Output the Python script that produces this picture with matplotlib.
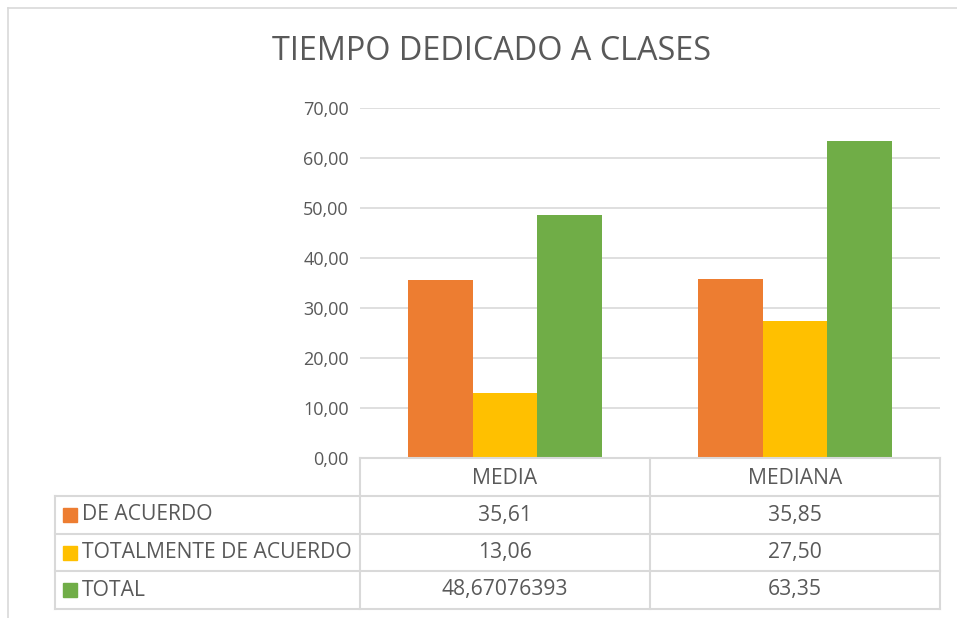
import matplotlib.pyplot as plt
from matplotlib.lines import Line2D
from matplotlib.patches import Rectangle

# --- Data ---
categories = ["MEDIA", "MEDIANA"]
series_names = ["DE ACUERDO", "TOTALMENTE DE ACUERDO", "TOTAL"]
de_acuerdo = [35.61, 35.85]
totalmente = [13.06, 27.50]
total = [48.67076393, 63.35]
y_ticks = [0, 10, 20, 30, 40, 50, 60, 70]

series_values = [de_acuerdo, totalmente, total]
colors = ["#ED7D31", "#FFC000", "#70AD47"]
GRID = "#D9D9D9"
TEXT = "#595959"
W, H = 957, 618
TABLE_FS = 15.2

plt.rcParams["font.family"] = ["Open Sans", "DejaVu Sans"]


def fx(px):
    return px / W


def fy(py):
    return 1 - py / H


def fmt(v):
    # Excel shows the raw value when the cell wasn't rounded
    if round(v, 2) == v:
        return f"{v:.2f}".replace(".", ",")
    return str(v).replace(".", ",")


fig = plt.figure(figsize=(W / 100, H / 100), dpi=100)

# chart area border (partly cropped in the original)
fig.add_artist(Line2D([fx(8), fx(8)], [fy(8), 0], color=GRID, lw=1.2))
fig.add_artist(Line2D([fx(8), 1], [fy(8), fy(8)], color=GRID, lw=1.2))

fig.text(fx(491), fy(52), "TIEMPO DEDICADO A CLASES", ha="center", va="center",
         fontsize=23.3, color=TEXT)

# plot area
left, right, top, bottom = 360, 940, 108, 458
ax = fig.add_axes([fx(left), fy(bottom), fx(right - left), (bottom - top) / H])

bw = 0.222
x = range(len(categories))
for i, (vals, c) in enumerate(zip(series_values, colors)):
    ax.bar([xi + (i - 1) * bw for xi in x], vals, width=bw, color=c, zorder=3)

ax.set_xlim(-0.5, len(categories) - 0.5)
ax.set_ylim(0, 70)
ax.set_yticks(y_ticks)
ax.set_yticklabels([f"{t:.2f}".replace(".", ",") for t in y_ticks])
ax.tick_params(axis="y", length=0, pad=8, labelsize=13, labelcolor=TEXT)
ax.set_xticks([])
ax.yaxis.grid(True, color=GRID, lw=1.2, zorder=0)
for s in ["top", "right", "left", "bottom"]:
    ax.spines[s].set_visible(False)

# data table
rows_y = [458, 496, 534, 571, 609]
cols_x = [55, 360, 650, 940]
lc = dict(color=GRID, lw=1.5)
fig.add_artist(Line2D([fx(360), fx(940)], [fy(458)] * 2, **lc))
for ry in rows_y[1:]:
    fig.add_artist(Line2D([fx(55), fx(940)], [fy(ry)] * 2, **lc))
fig.add_artist(Line2D([fx(55)] * 2, [fy(496), fy(609)], **lc))
for cx in cols_x[1:]:
    fig.add_artist(Line2D([fx(cx)] * 2, [fy(458), fy(609)], **lc))

for j, cat in enumerate(categories):
    cx = (cols_x[j + 1] + cols_x[j + 2]) / 2
    fig.text(fx(cx), fy(478), cat, ha="center", va="center", fontsize=TABLE_FS,
             color=TEXT)

for i, (name, vals, c) in enumerate(zip(series_names, series_values, colors)):
    cy = (rows_y[i + 1] + rows_y[i + 2]) / 2
    fig.add_artist(Rectangle((fx(63), fy(cy + 7)), fx(14), 14 / H,
                             color=c, transform=fig.transFigure))
    fig.text(fx(82), fy(cy), name, ha="left", va="center", fontsize=TABLE_FS,
             color=TEXT)
    for j, v in enumerate(vals):
        cx = (cols_x[j + 1] + cols_x[j + 2]) / 2
        fig.text(fx(cx), fy(cy), fmt(v), ha="center", va="center",
                 fontsize=TABLE_FS, color=TEXT)

fig.savefig("out.png", dpi=100)
